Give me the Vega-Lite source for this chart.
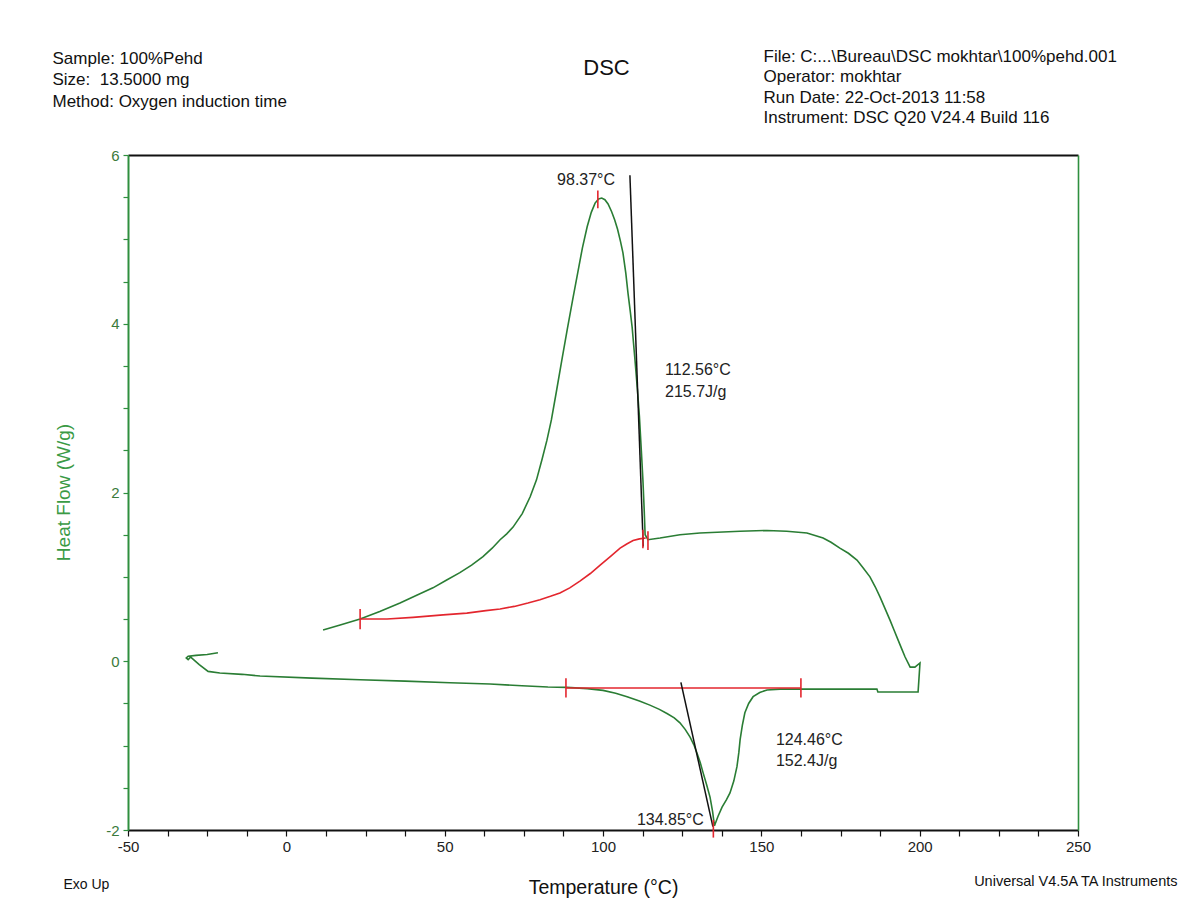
{
  "$schema": "https://vega.github.io/schema/vega-lite/v6.json",
  "width": 950,
  "height": 675,
  "autosize": {"type": "none"},
  "padding": {"left": 128, "top": 155, "right": 101, "bottom": 82},
  "background": "white",
  "config": {"font": "Liberation Sans", "view": {"stroke": null}, "axis": {"grid": false}},
  "datasets": {
    "curve": [
      {"i": 1, "T": -21.6, "HF": 0.10}, {"i": 2, "T": -25.0, "HF": 0.08}, {"i": 3, "T": -28.5, "HF": 0.07},
      {"i": 4, "T": -31.0, "HF": 0.06}, {"i": 5, "T": -31.6, "HF": 0.04}, {"i": 6, "T": -31.0, "HF": 0.02},
      {"i": 7, "T": -30.2, "HF": 0.05}, {"i": 8, "T": -27.5, "HF": -0.04}, {"i": 9, "T": -24.7, "HF": -0.12},
      {"i": 10, "T": -21.0, "HF": -0.14}, {"i": 11, "T": -14.0, "HF": -0.155}, {"i": 12, "T": -8.3, "HF": -0.175},
      {"i": 13, "T": 8.1, "HF": -0.20}, {"i": 14, "T": 23.3, "HF": -0.22}, {"i": 15, "T": 37.5, "HF": -0.235},
      {"i": 16, "T": 51.7, "HF": -0.255}, {"i": 17, "T": 64.3, "HF": -0.27}, {"i": 18, "T": 74.4, "HF": -0.29},
      {"i": 19, "T": 82.6, "HF": -0.305}, {"i": 20, "T": 88.6, "HF": -0.31}, {"i": 21, "T": 95.0, "HF": -0.325},
      {"i": 22, "T": 100.0, "HF": -0.345}, {"i": 23, "T": 104.0, "HF": -0.38}, {"i": 24, "T": 107.6, "HF": -0.42},
      {"i": 25, "T": 111.5, "HF": -0.47}, {"i": 26, "T": 114.8, "HF": -0.52}, {"i": 27, "T": 117.8, "HF": -0.57},
      {"i": 28, "T": 120.2, "HF": -0.62}, {"i": 29, "T": 122.5, "HF": -0.67}, {"i": 30, "T": 124.3, "HF": -0.73},
      {"i": 31, "T": 126.0, "HF": -0.81}, {"i": 32, "T": 127.5, "HF": -0.90}, {"i": 33, "T": 128.7, "HF": -0.99},
      {"i": 34, "T": 129.7, "HF": -1.09}, {"i": 35, "T": 130.7, "HF": -1.20}, {"i": 36, "T": 131.6, "HF": -1.32},
      {"i": 37, "T": 132.7, "HF": -1.46}, {"i": 38, "T": 133.8, "HF": -1.61}, {"i": 39, "T": 134.6, "HF": -1.78},
      {"i": 40, "T": 135.2, "HF": -1.95}, {"i": 41, "T": 136.3, "HF": -1.84}, {"i": 42, "T": 137.6, "HF": -1.73},
      {"i": 43, "T": 139.0, "HF": -1.64}, {"i": 44, "T": 140.1, "HF": -1.56}, {"i": 45, "T": 141.3, "HF": -1.42},
      {"i": 46, "T": 142.3, "HF": -1.25}, {"i": 47, "T": 142.9, "HF": -1.08}, {"i": 48, "T": 143.3, "HF": -0.93},
      {"i": 49, "T": 144.0, "HF": -0.76}, {"i": 50, "T": 144.8, "HF": -0.61}, {"i": 51, "T": 146.0, "HF": -0.50},
      {"i": 52, "T": 147.4, "HF": -0.42}, {"i": 53, "T": 149.5, "HF": -0.37}, {"i": 54, "T": 151.8, "HF": -0.34},
      {"i": 55, "T": 155.9, "HF": -0.33}, {"i": 56, "T": 170.0, "HF": -0.33}, {"i": 57, "T": 186.5, "HF": -0.33},
      {"i": 58, "T": 186.8, "HF": -0.365}, {"i": 59, "T": 199.5, "HF": -0.365}, {"i": 60, "T": 199.7, "HF": -0.25},
      {"i": 61, "T": 200.1, "HF": -0.02}, {"i": 62, "T": 198.5, "HF": -0.07}, {"i": 63, "T": 197.0, "HF": -0.07},
      {"i": 64, "T": 195.4, "HF": 0.05}, {"i": 65, "T": 194.3, "HF": 0.15}, {"i": 66, "T": 193.2, "HF": 0.25},
      {"i": 67, "T": 191.9, "HF": 0.37}, {"i": 68, "T": 190.6, "HF": 0.49}, {"i": 69, "T": 189.0, "HF": 0.63},
      {"i": 70, "T": 187.5, "HF": 0.76}, {"i": 71, "T": 186.0, "HF": 0.88}, {"i": 72, "T": 184.3, "HF": 1.00},
      {"i": 73, "T": 182.3, "HF": 1.10}, {"i": 74, "T": 180.2, "HF": 1.20}, {"i": 75, "T": 177.5, "HF": 1.28},
      {"i": 76, "T": 174.8, "HF": 1.34}, {"i": 77, "T": 172.0, "HF": 1.41}, {"i": 78, "T": 169.5, "HF": 1.46},
      {"i": 79, "T": 164.4, "HF": 1.52}, {"i": 80, "T": 158.0, "HF": 1.54}, {"i": 81, "T": 151.8, "HF": 1.55},
      {"i": 82, "T": 143.3, "HF": 1.54}, {"i": 83, "T": 130.6, "HF": 1.52}, {"i": 84, "T": 124.3, "HF": 1.50},
      {"i": 85, "T": 118.0, "HF": 1.46}, {"i": 86, "T": 114.2, "HF": 1.44}, {"i": 87, "T": 113.3, "HF": 1.50},
      {"i": 88, "T": 113.0, "HF": 1.80}, {"i": 89, "T": 112.6, "HF": 2.15}, {"i": 90, "T": 112.1, "HF": 2.50},
      {"i": 91, "T": 111.5, "HF": 2.90}, {"i": 92, "T": 110.8, "HF": 3.25}, {"i": 93, "T": 110.1, "HF": 3.57},
      {"i": 94, "T": 109.2, "HF": 3.96}, {"i": 95, "T": 108.6, "HF": 4.15}, {"i": 96, "T": 107.9, "HF": 4.36},
      {"i": 97, "T": 107.2, "HF": 4.60}, {"i": 98, "T": 106.3, "HF": 4.84}, {"i": 99, "T": 105.5, "HF": 4.98},
      {"i": 100, "T": 104.6, "HF": 5.12}, {"i": 101, "T": 103.7, "HF": 5.23}, {"i": 102, "T": 102.7, "HF": 5.33},
      {"i": 103, "T": 101.6, "HF": 5.42}, {"i": 104, "T": 100.6, "HF": 5.47}, {"i": 105, "T": 99.6, "HF": 5.49},
      {"i": 106, "T": 98.6, "HF": 5.48}, {"i": 107, "T": 97.5, "HF": 5.43}, {"i": 108, "T": 96.3, "HF": 5.32},
      {"i": 109, "T": 95.0, "HF": 5.15}, {"i": 110, "T": 93.5, "HF": 4.90}, {"i": 111, "T": 92.0, "HF": 4.60},
      {"i": 112, "T": 90.4, "HF": 4.28}, {"i": 113, "T": 88.7, "HF": 3.93}, {"i": 114, "T": 87.0, "HF": 3.57},
      {"i": 115, "T": 85.3, "HF": 3.20}, {"i": 116, "T": 83.7, "HF": 2.86}, {"i": 117, "T": 82.3, "HF": 2.62},
      {"i": 118, "T": 80.8, "HF": 2.40}, {"i": 119, "T": 79.0, "HF": 2.15}, {"i": 120, "T": 77.0, "HF": 1.95},
      {"i": 121, "T": 74.5, "HF": 1.75}, {"i": 122, "T": 71.6, "HF": 1.59}, {"i": 123, "T": 69.6, "HF": 1.51},
      {"i": 124, "T": 67.5, "HF": 1.44}, {"i": 125, "T": 65.0, "HF": 1.34}, {"i": 126, "T": 62.1, "HF": 1.24},
      {"i": 127, "T": 58.5, "HF": 1.14}, {"i": 128, "T": 54.8, "HF": 1.05}, {"i": 129, "T": 50.5, "HF": 0.96},
      {"i": 130, "T": 46.3, "HF": 0.87}, {"i": 131, "T": 41.0, "HF": 0.78}, {"i": 132, "T": 35.9, "HF": 0.69},
      {"i": 133, "T": 29.5, "HF": 0.59}, {"i": 134, "T": 23.3, "HF": 0.50}, {"i": 135, "T": 17.0, "HF": 0.43},
      {"i": 136, "T": 11.6, "HF": 0.37}
    ],
    "baseline": [
      {"seg": "upper", "i": 1, "T": 23.3, "HF": 0.50}, {"seg": "upper", "i": 2, "T": 31.8, "HF": 0.50},
      {"seg": "upper", "i": 3, "T": 40.0, "HF": 0.52}, {"seg": "upper", "i": 4, "T": 49.5, "HF": 0.55},
      {"seg": "upper", "i": 5, "T": 57.0, "HF": 0.57}, {"seg": "upper", "i": 6, "T": 63.0, "HF": 0.60},
      {"seg": "upper", "i": 7, "T": 67.5, "HF": 0.62}, {"seg": "upper", "i": 8, "T": 72.0, "HF": 0.65},
      {"seg": "upper", "i": 9, "T": 76.3, "HF": 0.69}, {"seg": "upper", "i": 10, "T": 80.1, "HF": 0.73},
      {"seg": "upper", "i": 11, "T": 83.4, "HF": 0.77}, {"seg": "upper", "i": 12, "T": 86.4, "HF": 0.81},
      {"seg": "upper", "i": 13, "T": 89.5, "HF": 0.87}, {"seg": "upper", "i": 14, "T": 92.7, "HF": 0.95},
      {"seg": "upper", "i": 15, "T": 96.0, "HF": 1.04}, {"seg": "upper", "i": 16, "T": 99.1, "HF": 1.14},
      {"seg": "upper", "i": 17, "T": 102.3, "HF": 1.24}, {"seg": "upper", "i": 18, "T": 105.4, "HF": 1.34},
      {"seg": "upper", "i": 19, "T": 107.5, "HF": 1.39}, {"seg": "upper", "i": 20, "T": 109.5, "HF": 1.43},
      {"seg": "upper", "i": 21, "T": 111.5, "HF": 1.45}, {"seg": "upper", "i": 22, "T": 113.5, "HF": 1.46},
      {"seg": "lower", "i": 1, "T": 88.3, "HF": -0.317}, {"seg": "lower", "i": 2, "T": 162.5, "HF": -0.317}
    ],
    "tangent": [
      {"seg": "exo", "i": 1, "T": 108.5, "HF": 5.76}, {"seg": "exo", "i": 2, "T": 112.7, "HF": 1.36},
      {"seg": "endo", "i": 1, "T": 124.6, "HF": -0.25}, {"seg": "endo", "i": 2, "T": 134.7, "HF": -1.96}
    ],
    "marker": [
      {"T": 23.3, "y1": 0.38, "y2": 0.62}, {"T": 98.37, "y1": 5.37, "y2": 5.58},
      {"T": 112.6, "y1": 1.34, "y2": 1.56}, {"T": 114.2, "y1": 1.32, "y2": 1.54},
      {"T": 88.3, "y1": -0.43, "y2": -0.20}, {"T": 162.5, "y1": -0.43, "y2": -0.20},
      {"T": 134.85, "y1": -2.09, "y2": -1.88}
    ],
    "note": [
      {"T": 85.5, "HF": 5.70, "label": "98.37°C"},
      {"T": 119.6, "HF": 3.45, "label": "112.56°C"},
      {"T": 119.6, "HF": 3.19, "label": "215.7J/g"},
      {"T": 154.6, "HF": -0.93, "label": "124.46°C"},
      {"T": 154.6, "HF": -1.18, "label": "152.4J/g"},
      {"T": 110.7, "HF": -1.88, "label": "134.85°C"}
    ]
  },
  "resolve": {"axis": {"x": "independent", "y": "independent"}},
  "layer": [
    {
      "data": {"name": "curve"},
      "mark": {"type": "line", "color": "#2a7d34", "strokeWidth": 1.6, "clip": false},
      "encoding": {
        "x": {
          "field": "T", "type": "quantitative",
          "scale": {"domain": [-50, 250], "nice": false, "zero": false},
          "axis": {
            "orient": "bottom",
            "values": [-50, -37.5, -25, -12.5, 0, 12.5, 25, 37.5, 50, 62.5, 75, 87.5, 100, 112.5, 125, 137.5, 150, 162.5, 175, 187.5, 200, 212.5, 225, 237.5, 250],
            "labelExpr": "datum.value % 50 === 0 ? '' + datum.value : ''",
            "labelFlush": false, "labelOverlap": false, "labelBound": false,
            "labelFontSize": 15, "labelColor": "#222222", "labelPadding": 3,
            "tickSize": 6, "tickColor": "#111111", "tickWidth": 1.2,
            "domainColor": "#111111", "domainWidth": 2,
            "title": "Temperature (°C)", "titleFontSize": 19.5, "titleFontWeight": "normal", "titleColor": "#111111",
            "titleX": 475, "titleY": 63, "titleAlign": "center", "titleBaseline": "alphabetic"
          }
        },
        "y": {
          "field": "HF", "type": "quantitative",
          "scale": {"domain": [-2, 6], "nice": false, "zero": false},
          "axis": {
            "orient": "left",
            "values": [-2, -1.5, -1, -0.5, 0, 0.5, 1, 1.5, 2, 2.5, 3, 3.5, 4, 4.5, 5, 5.5, 6],
            "labelExpr": "datum.value % 2 === 0 ? '' + datum.value : ''",
            "labelOverlap": false, "labelBound": false, "labelFlush": false,
            "labelFontSize": 15, "labelColor": "#3b7a3b", "labelPadding": 4,
            "tickSize": 5, "tickColor": "#2f8f3f", "tickWidth": 1.2,
            "domainColor": "#2f8f3f", "domainWidth": 2,
            "title": "Heat Flow (W/g)", "titleFontSize": 19, "titleFontWeight": "normal", "titleColor": "#3a9a45",
            "titleAngle": 270, "titleX": -65, "titleY": 337, "titleAlign": "center", "titleBaseline": "middle"
          }
        },
        "order": {"field": "i", "type": "quantitative"}
      }
    },
    {
      "data": {"name": "baseline"},
      "mark": {"type": "line", "color": "#e3262e", "strokeWidth": 1.6, "clip": false},
      "encoding": {
        "x": {
          "field": "T", "type": "quantitative",
          "scale": {"domain": [-50, 250], "nice": false, "zero": false},
          "axis": {
            "orient": "top", "ticks": false, "labels": false,
            "domainColor": "#111111", "domainWidth": 2,
            "title": ["Sample: 100%Pehd", "Size: \u00a013.5000 mg", "Method: Oxygen induction time"],
            "titleFontSize": 17, "titleFontWeight": "normal", "titleColor": "#111111", "titleLineHeight": 21.5,
            "titleX": -76, "titleY": -105, "titleAlign": "left", "titleBaseline": "top"
          }
        },
        "y": {
          "field": "HF", "type": "quantitative",
          "scale": {"domain": [-2, 6], "nice": false, "zero": false},
          "axis": {
            "orient": "right", "ticks": false, "labels": false,
            "domainColor": "#2f8f3f", "domainWidth": 1.6,
            "title": "Universal V4.5A TA Instruments",
            "titleFontSize": 14.5, "titleFontWeight": "normal", "titleColor": "#111111",
            "titleAngle": 0, "titleX": 99, "titleY": 730, "titleAlign": "right", "titleBaseline": "alphabetic"
          }
        },
        "detail": {"field": "seg"},
        "order": {"field": "i", "type": "quantitative"}
      }
    },
    {
      "data": {"name": "tangent"},
      "mark": {"type": "line", "color": "#111111", "strokeWidth": 1.5, "clip": false},
      "encoding": {
        "x": {
          "field": "T", "type": "quantitative",
          "scale": {"domain": [-50, 250], "nice": false, "zero": false},
          "axis": {
            "orient": "top", "ticks": false, "labels": false, "domain": false,
            "title": ["File: C:...\\Bureau\\DSC mokhtar\\100%pehd.001", "Operator: mokhtar", "Run Date: 22-Oct-2013 11:58", "Instrument: DSC Q20 V24.4 Build 116"],
            "titleFontSize": 17, "titleFontWeight": "normal", "titleColor": "#111111", "titleLineHeight": 20.5,
            "titleX": 635, "titleY": -107, "titleAlign": "left", "titleBaseline": "top"
          }
        },
        "y": {
          "field": "HF", "type": "quantitative",
          "scale": {"domain": [-2, 6], "nice": false, "zero": false},
          "axis": {
            "orient": "right", "ticks": false, "labels": false, "domain": false,
            "title": "DSC", "titleFontSize": 22, "titleFontWeight": "normal", "titleColor": "#111111",
            "titleAngle": 0, "titleX": -472, "titleY": -81, "titleAlign": "center", "titleBaseline": "alphabetic"
          }
        },
        "detail": {"field": "seg"},
        "order": {"field": "i", "type": "quantitative"}
      }
    },
    {
      "data": {"name": "marker"},
      "mark": {"type": "rule", "color": "#e3262e", "strokeWidth": 1.6, "clip": false},
      "encoding": {
        "x": {
          "field": "T", "type": "quantitative",
          "scale": {"domain": [-50, 250], "nice": false, "zero": false},
          "axis": {
            "orient": "bottom", "ticks": false, "labels": false, "domain": false,
            "title": "Exo Up", "titleFontSize": 14, "titleFontWeight": "normal", "titleColor": "#111111",
            "titleX": -65, "titleY": 58, "titleAlign": "left", "titleBaseline": "alphabetic"
          }
        },
        "y": {"field": "y1", "type": "quantitative", "scale": {"domain": [-2, 6], "nice": false, "zero": false}, "axis": null},
        "y2": {"field": "y2"}
      }
    },
    {
      "data": {"name": "note"},
      "mark": {"type": "text", "align": "left", "baseline": "middle", "fontSize": 16, "color": "#222222", "clip": false},
      "encoding": {
        "x": {"field": "T", "type": "quantitative", "scale": {"domain": [-50, 250], "nice": false, "zero": false}, "axis": null},
        "y": {"field": "HF", "type": "quantitative", "scale": {"domain": [-2, 6], "nice": false, "zero": false}, "axis": null},
        "text": {"field": "label"}
      }
    }
  ]
}
